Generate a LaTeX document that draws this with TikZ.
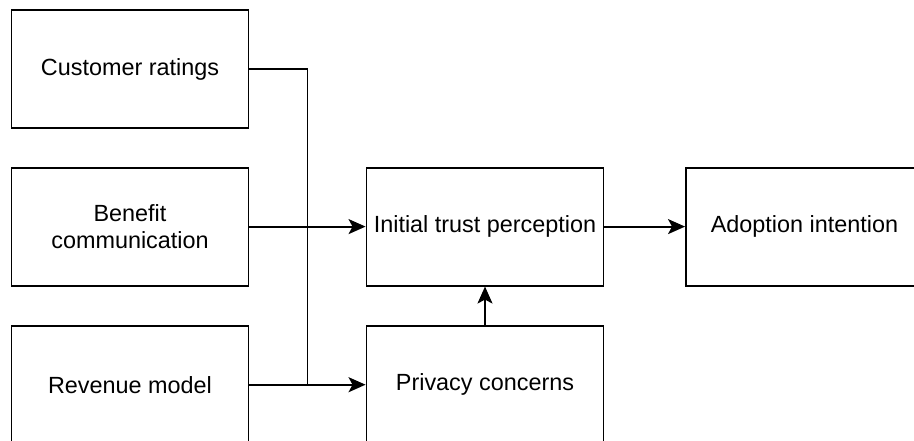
\documentclass[tikz,border=0pt]{standalone}
\usepackage{fontspec}
\setmainfont{Liberation Sans}
\usetikzlibrary{arrows.meta}
\tikzset{
  box/.style={draw=black, line width=1.9pt, minimum width=237pt, minimum height=118pt,
    inner sep=0pt, align=center, font=\fontsize{23.4}{27}\selectfont},
  link/.style={line width=1.9pt},
  arr/.style={link, -{Stealth[length=17pt, width=15pt, inset=4pt]}}
}
\begin{document}
\begin{tikzpicture}[x=1pt, y=-1pt]
  \useasboundingbox (0,0) rectangle (914,441);
  \clip (0,0) rectangle (914,441);
  \fill[white] (0,0) rectangle (914,441);
  % left column: influencing factors
  \node[box] (cr) at (130,69) {Customer ratings};
  \node[box] (bc) at (130,226.6) {Benefit\\communication};
  \node[box] (rm) at (130,384.7) {Revenue model};
  % middle column
  \node[box] (it) at (485,226.6) {Initial trust perception};
  \node[box] (pc) at (485,384.7) {Privacy concerns};
  % outcome
  \node[box] (ai) at (804.5,226.6) {Adoption intention};
  % junction of the ratings line with the revenue line
  \coordinate (j) at (307.5,384.7);
  \draw[link] (cr.east) -| (j);
  \draw[arr] (bc.east) -- (it.west);
  \draw[arr] (rm.east) -- (pc.west);
  \draw[arr] (pc.north) -- (it.south);
  \draw[arr] (it.east) -- (ai.west);
\end{tikzpicture}
\end{document}
